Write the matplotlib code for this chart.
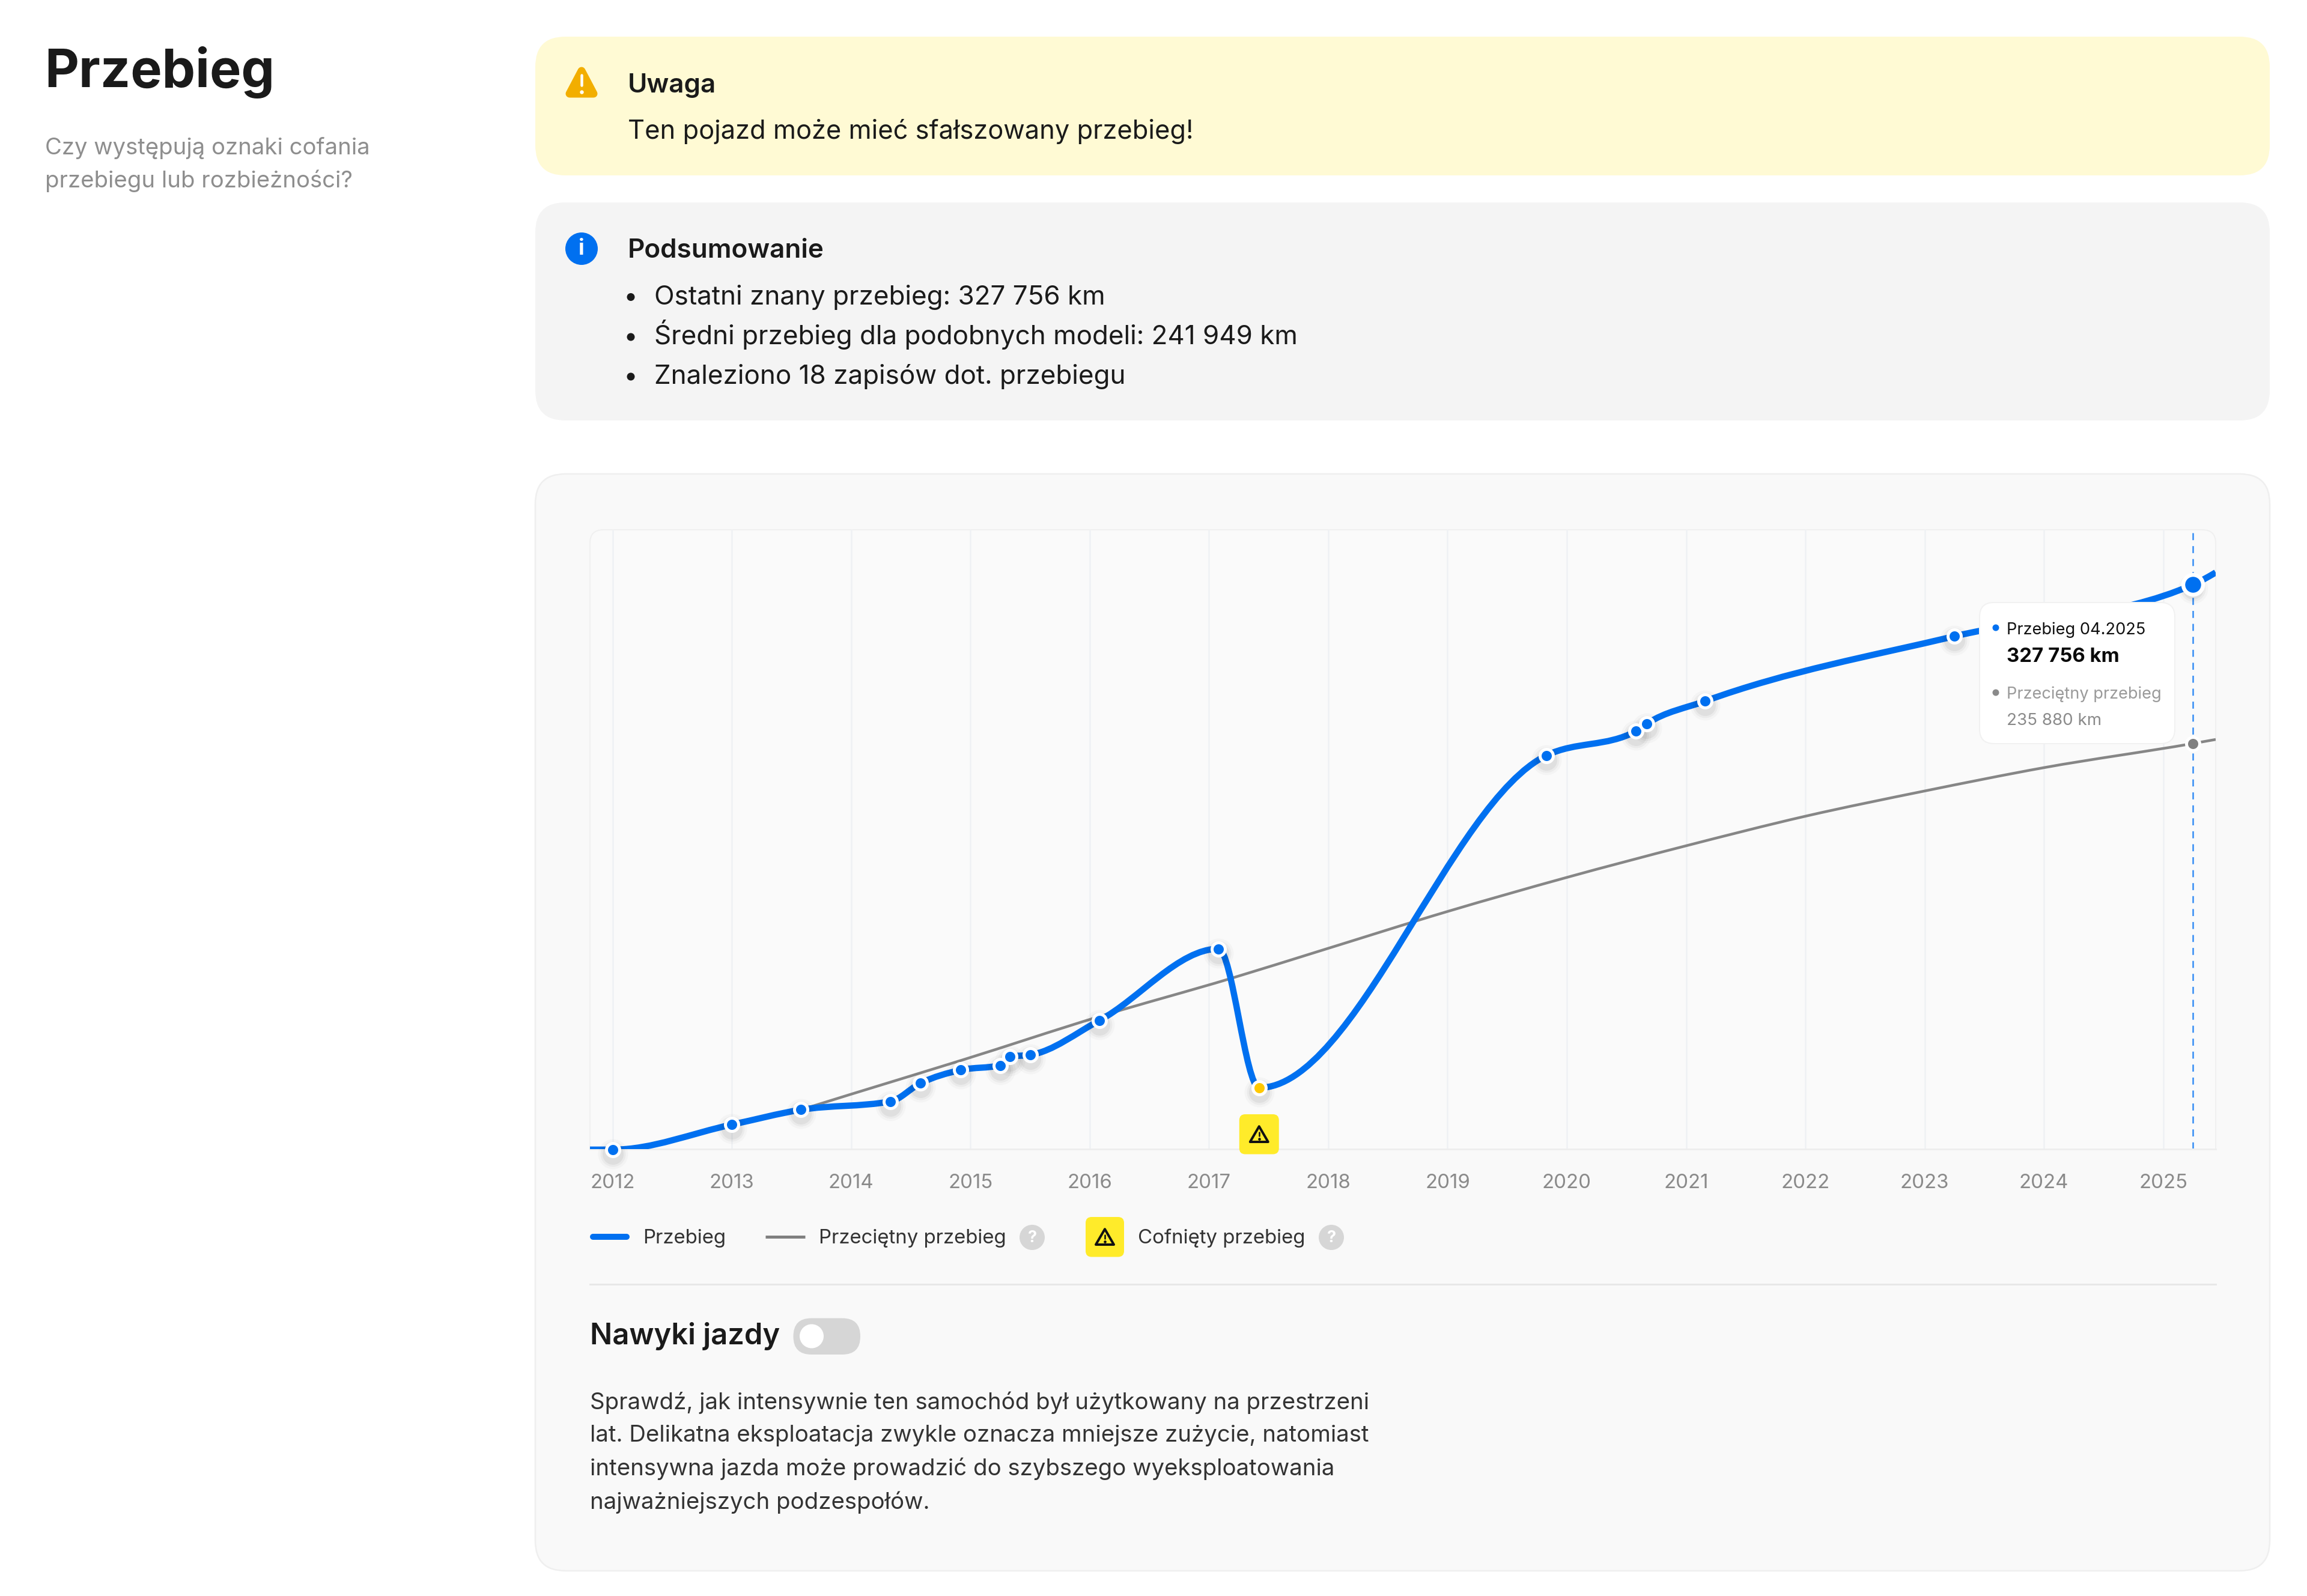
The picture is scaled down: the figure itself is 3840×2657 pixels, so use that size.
import numpy as np
import matplotlib
matplotlib.use('Agg')
import matplotlib.pyplot as plt
from matplotlib.patches import FancyBboxPatch, Circle, Polygon, PathPatch
from matplotlib.path import Path
from matplotlib.transforms import offset_copy

plt.rcParams['font.family'] = ['Inter', 'DejaVu Sans']

# years as decimals, km
mileage_years = [2012.0, 2013.0, 2013.58, 2014.33, 2014.58, 2014.92, 2015.25, 2015.33, 2015.5,
                 2016.08, 2017.08, 2017.42, 2019.83, 2020.58, 2020.67, 2021.16, 2023.25, 2025.25]
mileage_km = [900, 15400, 24000, 28800, 39300, 47000, 49700, 54800, 55700,
              75600, 117100, 36700, 229000, 243000, 247300, 260400, 297900, 327756]
# the line runs on past the first and last record up to the plot edges
line_start = (2011.81, 900)
line_end = (2025.44, 334800)

avg_years = [2013.58, 2014.0, 2014.92, 2016.08, 2017.19, 2017.94, 2019.0, 2020.0, 2021.0,
             2022.0, 2023.0, 2024.0, 2025.25, 2025.44]
avg_km = [24000, 33000, 52500, 77900, 100100, 116100, 138700, 158400, 176700,
          193800, 208400, 221900, 235880, 238200]

rollback_year = 2017.42
rollback_km = 36700
current_year = 2025.25
current_km = 327756
current_avg_km = 235880

tick_years = list(range(2012, 2026))

BLUE = '#0070F0'
GRAY = '#8A8A8A'
INK = '#1A1A1A'
W, H = 3840, 2657


def pt(px):
    return px * 72 / 100


def smooth_path(xs, ys):
    # monotone cubic between the read points, same look as the site's chart
    xs = np.asarray(xs, float)
    ys = np.asarray(ys, float)
    h = np.diff(xs)
    s = np.diff(ys) / h
    m = np.zeros(len(xs))
    for i in range(1, len(xs) - 1):
        p = (s[i - 1] * h[i] + s[i] * h[i - 1]) / (h[i - 1] + h[i])
        m[i] = (np.sign(s[i - 1]) + np.sign(s[i])) * min(abs(s[i - 1]), abs(s[i]), 0.5 * abs(p))
    m[0] = (3 * s[0] - m[1]) / 2
    m[-1] = (3 * s[-1] - m[-2]) / 2
    verts = [(xs[0], ys[0])]
    codes = [Path.MOVETO]
    for i in range(len(h)):
        verts += [(xs[i] + h[i] / 3, ys[i] + m[i] * h[i] / 3),
                  (xs[i + 1] - h[i] / 3, ys[i + 1] - m[i + 1] * h[i] / 3),
                  (xs[i + 1], ys[i + 1])]
        codes += [Path.CURVE4] * 3
    return Path(verts, codes)


fig = plt.figure(figsize=(W / 100, H / 100), dpi=100, facecolor='white')


def pixel_axes(zorder):
    a = fig.add_axes([0, 0, 1, 1], zorder=zorder)
    a.set_xlim(0, W)
    a.set_ylim(H, 0)
    a.axis('off')
    a.patch.set_alpha(0)
    return a


ui = pixel_axes(0)
top = pixel_axes(5)


def box(a, x0, y0, x1, y1, r, fc, ec='none', lw=0, z=1):
    a.add_patch(FancyBboxPatch((x0, y0), x1 - x0, y1 - y0, boxstyle=f'round,pad=0,rounding_size={r}',
                               fc=fc, ec=ec, lw=lw, zorder=z))


def label(a, x, y, s, px, color=INK, weight='normal', ha='left'):
    a.text(x, y, s, fontsize=pt(px), color=color, fontweight=weight, ha=ha, va='baseline', zorder=10)


def warn_icon(a, cx, cy, size):
    # outlined rounded triangle with an exclamation mark
    tri = [(cx, cy - size * 0.46), (cx + size * 0.5, cy + size * 0.4), (cx - size * 0.5, cy + size * 0.4)]
    a.add_patch(Polygon(tri, closed=True, fc='none', ec='#111111', lw=pt(4), joinstyle='round', zorder=8))
    a.plot([cx, cx], [cy - size * 0.13, cy + size * 0.08], color='#111111', lw=pt(2.6), solid_capstyle='round', zorder=9)
    a.plot([cx], [cy + size * 0.24], 'o', color='#111111', ms=pt(3.2), zorder=9)


def help_dot(a, cx, cy):
    a.add_patch(Circle((cx, cy), 21, fc='#D6D6D6', ec='none', zorder=5))
    a.text(cx, cy + 1, '?', fontsize=pt(27), color='white', ha='center', va='center', fontweight='bold', zorder=6)


# left column
label(ui, 74, 145, 'Przebieg', 88, INK, 'bold')
label(ui, 75, 257, 'Czy występują oznaki cofania', 38.3, '#8E8E8E')
label(ui, 75, 312, 'przebiegu lub rozbieżności?', 38.3, '#8E8E8E')

# warning box
box(ui, 891, 61, 3778, 292, 50, '#FFFAD4')
tri = [(968, 118), (988, 156), (948, 156)]
ui.add_patch(Polygon(tri, closed=True, fc='#F2AE00', ec='#F2AE00', lw=pt(13), joinstyle='round', zorder=3))
ui.plot([968, 968], [125, 142], color='white', lw=pt(4.5), solid_capstyle='round', zorder=4)
ui.plot([968], [153], 'o', color='white', ms=pt(5), zorder=4)
label(ui, 1045, 154, 'Uwaga', 44, INK, 'semibold')
label(ui, 1045, 231, 'Ten pojazd może mieć sfałszowany przebieg!', 43.4)

# summary box
box(ui, 891, 337, 3778, 700, 50, '#F4F4F4')
ui.add_patch(Circle((968, 414), 27, fc=BLUE, ec='none', zorder=3))
ui.text(968, 415, 'i', fontsize=pt(36), color='white', fontweight='bold', ha='center', va='center', zorder=4)
label(ui, 1045, 429, 'Podsumowanie', 44, INK, 'semibold')
summary_lines = ['Ostatni znany przebieg: 327 756 km',
                 'Średni przebieg dla podobnych modeli: 241 949 km',
                 'Znaleziono 18 zapisów dot. przebiegu']
for text, base in zip(summary_lines, [506.5, 573, 639]):
    ui.add_patch(Circle((1050, base - 12), 6.5, fc=INK, ec='none', zorder=3))
    label(ui, 1089, base, text, 44)

# chart card
box(ui, 891, 789, 3778, 2615, 50, '#F9F9F9', ec='#EFEFEF', lw=pt(2.5))
box(ui, 982, 882, 3688, 1960, 22, '#FAFAFA', ec='#F0F0F0', lw=pt(2))
ui.add_patch(plt.Rectangle((975, 1913.5), 2720, 60, fc='#F9F9F9', ec='none', zorder=2))

# chart
ax = fig.add_axes([982 / W, 1 - 1912.5 / H, (3688 - 982) / W, (1912.5 - 882) / H], zorder=2)
ax.patch.set_alpha(0)
ax.set_xlim(2011.81, 2025.44)
ax.set_ylim(1400, 359500)
for side in ['top', 'right', 'left']:
    ax.spines[side].set_visible(False)
ax.spines['bottom'].set_color('#EEEEEE')
ax.spines['bottom'].set_linewidth(pt(3))
ax.set_yticks([])
ax.set_xticks(tick_years)
ax.set_xticklabels([str(y) for y in tick_years])
ax.tick_params(axis='x', length=0, pad=pt(41), labelsize=pt(33), labelcolor='#8A8A8A')
ax.grid(axis='x', color='#EFF1F4', lw=pt(2.5), zorder=0)
ax.set_axisbelow(True)

ax.add_patch(PathPatch(smooth_path(avg_years, avg_km), fc='none', ec='#868686', lw=pt(4.5), zorder=2))
ax.axvline(current_year, color='#3B90F5', lw=pt(2.6), linestyle=(0, (4.5, 3.8)), zorder=2.5)
blue_x = [line_start[0]] + mileage_years + [line_end[0]]
blue_y = [line_start[1]] + mileage_km + [line_end[1]]
ax.add_patch(PathPatch(smooth_path(blue_x, blue_y), fc='none', ec=BLUE, lw=pt(10.5), zorder=3, capstyle='butt'))

# soft shadow under the markers
shadow = offset_copy(ax.transData, fig=fig, x=0, y=-7, units='dots')
for size, alpha in [(50, 0.025), (42, 0.035), (35, 0.05)]:
    ax.plot(mileage_years, mileage_km, 'o', ms=pt(size), color='black', alpha=alpha, mew=0,
            transform=shadow, zorder=3.5, clip_on=False)

normal_years = [y for y in mileage_years if y not in (rollback_year, current_year)]
normal_km = [k for y, k in zip(mileage_years, mileage_km) if y not in (rollback_year, current_year)]
ax.plot(normal_years, normal_km, 'o', ms=pt(22), color=BLUE, mec='white', mew=pt(5), zorder=4, clip_on=False)
ax.plot([rollback_year], [rollback_km], 'o', ms=pt(22), color='#FFC800', mec='white', mew=pt(5), zorder=4)
ax.plot([current_year], [current_km], 'o', ms=pt(33), color=BLUE, mec='white', mew=pt(6.5), zorder=4)
ax.plot([current_year], [current_avg_km], 'o', ms=pt(22), color='#808080', mec='white', mew=pt(5), zorder=4)

# rollback badge sits on the axis under its point
badge_x = ax.transData.transform((rollback_year, 0))[0]
box(top, badge_x - 33, 1855, badge_x + 33, 1921.5, 10, '#FFEB2A')
warn_icon(top, badge_x, 1889, 30)

# tooltip
box(top, 3295, 1003, 3620, 1238, 24, 'white', ec='#F1F1F1', lw=pt(2))
top.add_patch(Circle((3322, 1045), 5.5, fc=BLUE, ec='none', zorder=6))
label(top, 3340, 1056, 'Przebieg 04.2025', 27.2, '#111111')
label(top, 3340, 1102, '327 756 km', 33, '#0A0A0A', 'bold')
top.add_patch(Circle((3322, 1153), 5.5, fc='#8A8A8A', ec='none', zorder=6))
label(top, 3340, 1163, 'Przeciętny przebieg', 27.2, '#9A9A9A')
label(top, 3340, 1207, '235 880 km', 27.8, '#8A8A8A')

# legend
ui.plot([987, 1043], [2059, 2059], color=BLUE, lw=pt(10), solid_capstyle='round', zorder=3)
label(ui, 1070, 2070, 'Przebieg', 33, '#333333')
ui.plot([1274, 1340], [2059, 2059], color='#808080', lw=pt(5), solid_capstyle='butt', zorder=3)
label(ui, 1363, 2070, 'Przeciętny przebieg', 33, '#333333')
help_dot(ui, 1718, 2060)
box(ui, 1807, 2026, 1871, 2092.5, 10, '#FFEB2A', z=3)
warn_icon(ui, 1839, 2060, 30)
label(ui, 1894, 2070, 'Cofnięty przebieg', 33, '#333333')
help_dot(ui, 2216, 2060)

ui.plot([982, 3688], [2138, 2138], color='#E8E8E8', lw=pt(3), zorder=3)

# driving habits block
label(ui, 982, 2238, 'Nawyki jazdy', 49, INK, 'semibold')
box(ui, 1320.5, 2194.5, 1432, 2255, 30, '#D6D6D6', z=3)
ui.add_patch(Circle((1351, 2224.5), 20, fc='white', ec='none', zorder=4))
para_lines = ['Sprawdź, jak intensywnie ten samochód był użytkowany na przestrzeni',
              'lat. Delikatna eksploatacja zwykle oznacza mniejsze zużycie, natomiast',
              'intensywna jazda może prowadzić do szybszego wyeksploatowania',
              'najważniejszych podzespołów.']
for text, base in zip(para_lines, [2345.5, 2400.5, 2456, 2511.5]):
    label(ui, 982, base, text, 38.35, '#333333')

fig.savefig('out.png', dpi=100)
